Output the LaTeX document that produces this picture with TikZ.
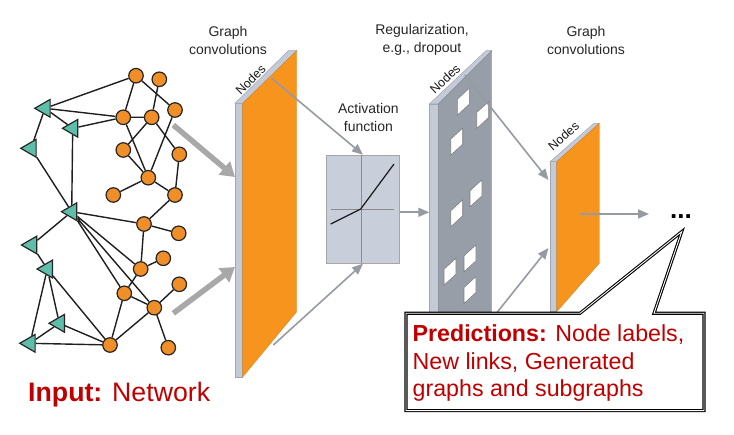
\documentclass[tikz,border=0pt]{standalone}
\usepackage{fontspec}
\setmainfont{Liberation Sans}
\usetikzlibrary{arrows.meta,shapes.geometric,backgrounds,calc}
\definecolor{onode}{RGB}{240,142,40}
\definecolor{tnode}{RGB}{95,190,168}
\definecolor{lorange}{RGB}{247,148,30}
\definecolor{lstrip}{RGB}{197,203,214}
\definecolor{lstripd}{RGB}{160,166,178}
\definecolor{ldark}{RGB}{152,158,168}
\definecolor{actfill}{RGB}{200,206,218}
\definecolor{arrgray}{RGB}{168,168,168}
\definecolor{thingray}{RGB}{150,154,162}
\definecolor{dred}{RGB}{192,0,0}
\begin{document}
\begin{tikzpicture}[x=1pt,y=-1pt,
  onode/.style={circle,fill=onode,draw=black!85,line width=1.2pt,minimum size=14.5pt,inner sep=0pt},
  tnode/.style={regular polygon,regular polygon sides=3,shape border rotate=90,fill=tnode,draw=black!85,line width=1.2pt,minimum size=20.5pt,inner sep=0pt},
  net/.style={draw=black!88,line width=1.4pt},
  thick arrow/.style={draw=arrgray,line width=5.5pt,-{Triangle[length=14pt,width=17pt]}},
  thin arrow/.style={draw=thingray,line width=1.6pt,-{Triangle[length=11pt,width=9pt]}},
  strip/.style={fill=lstrip,draw=lstripd,line width=0.5pt},
  oface/.style={fill=lorange,draw=lorange!85!black,line width=0.3pt},
  dface/.style={fill=ldark,draw=ldark!85!black,line width=0.3pt},
  hd/.style={font=\fontsize{14}{18.5}\selectfont,align=center,text=black!85},
  nodeslbl/.style={font=\fontsize{12.5}{14}\selectfont,text=black!90,inner sep=0pt},
  bigred/.style={font=\fontsize{23.2}{27}\selectfont,text=dred,inner sep=0pt,anchor=base west},
  cell/.pic={\draw[fill=white,draw=black!50,line width=0.6pt] (-6,13.5) -- ++(0,-16) -- ++(12,-11) -- ++(0,16) -- cycle;}
]
\useasboundingbox (0,0) rectangle (734,435);

% ---------------- network ----------------
\node[onode] (o1) at (136,75.7) {};
\node[onode] (o2) at (159.3,79.3) {};
\node[onode] (o3) at (175,110) {};
\node[onode] (o4) at (123.3,117.3) {};
\node[onode] (o5) at (151.7,117.3) {};
\node[onode] (o6) at (123.3,150) {};
\node[onode] (o7) at (179.3,154.3) {};
\node[onode] (o8) at (148.3,177.7) {};
\node[onode] (o9) at (113.3,195) {};
\node[onode] (o10) at (175,195) {};
\node[onode] (o11) at (144,224) {};
\node[onode] (o12) at (178.7,233.3) {};
\node[onode] (o13) at (163.3,258.3) {};
\node[onode] (o14) at (140.7,269) {};
\node[onode] (o15) at (179.3,284.3) {};
\node[onode] (o16) at (124.3,293.3) {};
\node[onode] (o17) at (154.3,307.7) {};
\node[onode] (o18) at (110,345) {};
\node[onode] (o19) at (168.3,347.7) {};
\node[tnode] (t1) at (45,108.3) {};
\node[tnode] (t2) at (72.7,128.3) {};
\node[tnode] (t3) at (31,148.3) {};
\node[tnode] (t4) at (71.7,211.7) {};
\node[tnode] (t5) at (31.7,245) {};
\node[tnode] (t6) at (47.3,269) {};
\node[tnode] (t7) at (59.3,323.3) {};
\node[tnode] (t8) at (30,343.3) {};
\begin{pgfonlayer}{background}
\draw[net] (o1)--(t1) (t1)--(o4) (t1)--(t2) (o4)--(t2) (t1)--(t3) (t3)--(t4) (t2)--(t4)
  (o1)--(o4) (o1)--(o3) (o2)--(o5) (o4)--(o5) (o4)--(o8) (o5)--(o6) (o5)--(o7)
  (o3)--(o8) (o6)--(o8) (o7)--(o10) (o8)--(o9) (o8)--(o10) (o10)--(o11)
  (t4)--(o11) (o11)--(o12) (o11)--(o14) (o14)--(o13) (o14)--(o16)
  (t4)--(t5) (t4)--(o14) (t4)--(o16) (t4)--(o17)
  (t5)--(t6) (t6)--(t8) (t6)--(t7) (t6)--(o18) (t7)--(t8) (t7)--(o18) (t8)--(o18)
  (o16)--(o18) (o16)--(o17) (o17)--(o18) (o17)--(o15) (o17)--(o19);
\end{pgfonlayer}

% thick input arrows
\coordinate (a1s) at (173.3,125); \coordinate (a1e) at (235,177);
\coordinate (a2s) at (173.3,313.3); \coordinate (a2e) at (235,267);
\draw[thick arrow] (a1s) -- (a1e);
\draw[thick arrow] (a2s) -- (a2e);

% ---------------- first graph convolution layer ----------------
\draw[strip] (235,103.3) rectangle (242.7,377);
\draw[strip] (235,103.3) -- (242.7,103.3) -- (296.7,50.7) -- (288.3,50.7) -- cycle;
\draw[oface] (242.7,103.3) -- (296.7,50.7) -- (296.7,311.7) -- (242.7,377) -- cycle;
\node[nodeslbl,rotate=45] (n1) at (250.5,79.5) {Nodes};

% ---------------- activation ----------------
\node[fill=actfill,draw=black!35,line width=0.6pt,minimum width=72.6pt,minimum height=108.3pt,inner sep=0pt] (act) at (363,209.2) {};
\draw[draw=black!45,line width=0.8pt] (361.7,155) -- (361.7,263.3);
\draw[draw=black!45,line width=0.8pt] (330.7,209) -- (394,209);
\draw[draw=black!90,line width=1.2pt] (330.7,224) -- (360.7,209) -- (394,164);
\node[hd] (acttxt) at (368.4,117.5) {Activation\\function};

\coordinate (l1top) at (271.7,78.3);
\coordinate (l1bot) at (273.3,345);
\draw[thin arrow] (l1top) -- (act.north);
\draw[thin arrow] (l1bot) -- (act.south);

% ---------------- regularization layer ----------------
\draw[strip] (429.3,104) rectangle (438.3,377);
\draw[strip] (429.3,104) -- (438.3,104) -- (491.7,50.7) -- (486,50.7) -- cycle;
\draw[dface] (438.3,104) -- (491.7,50.7) -- (491.7,324) -- (438.3,377) -- cycle;
\pic at (463.3,101.7) {cell};
\pic at (482.7,115) {cell};
\pic at (456.7,141.7) {cell};
\pic at (476,193.3) {cell};
\pic at (456.7,213.3) {cell};
\pic at (470,258.3) {cell};
\pic at (450,271.7) {cell};
\pic at (470,290) {cell};
\node[nodeslbl,rotate=43] (n2) at (445,78.8) {Nodes};
\coordinate (r1in) at (429.3,212.3);
\draw[thin arrow] (act.east |- r1in) -- (r1in);

% ---------------- second graph convolution layer ----------------
\coordinate (r1top) at (465,75);
\coordinate (r1bot) at (480,333.8);
\coordinate (l2top) at (548.5,180);
\coordinate (l2bot) at (548.5,248);
\draw[thin arrow] (r1top) -- (l2top);
\draw[thin arrow] (r1bot) -- (l2bot);
\draw[strip] (550,161.7) rectangle (556.7,311.7);
\draw[strip] (550,161.7) -- (556.7,161.7) -- (599.3,123.3) -- (594,123.3) -- cycle;
\draw[oface] (556.7,161.7) -- (599.3,123.3) -- (599.3,263.3) -- (556.7,311.7) -- cycle;
\node[nodeslbl,rotate=41] (n3) at (563.5,136) {Nodes};

\node[font=\fontsize{26}{30}\selectfont\bfseries,inner sep=0pt,anchor=base] (dots) at (681,219) {...};
\coordinate (l2out) at (580,214);
\coordinate (dotsin) at (649,214);
\draw[thin arrow] (l2out) -- (dotsin);

% ---------------- callout ----------------
\coordinate (tip) at (681.7,231.7);
\draw[fill=white,draw=black,line width=1.1pt,double=white,double distance=0.9pt]
  (406,313.3) -- (580,313.3) -- (tip) -- (654,313.3) -- (704,313.3) -- (704,410.7) -- (406,410.7) -- cycle;
\node[bigred] (p1) at (412.5,341.7) {\textbf{Predictions:} Node labels,};
\node[bigred] (p2) at (412.5,369.5) {New links, Generated};
\node[bigred] (p3) at (412.5,397) {graphs and subgraphs};

% ---------------- headings ----------------
\node[hd] (gc1) at (228,40.5) {Graph\\convolutions};
\node[hd] (reg) at (422,40) {Regularization,\\e.g., dropout};
\node[hd] (gc2) at (586,40.5) {Graph\\convolutions};

\node[font=\fontsize{26.7}{30}\selectfont,text=dred,inner sep=0pt,anchor=base west] (inp) at (28,401.7) {\textbf{Input:} Network};
\end{tikzpicture}
\end{document}
